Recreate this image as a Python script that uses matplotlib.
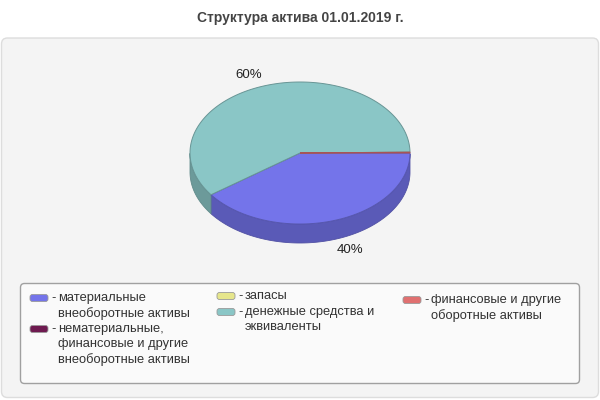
import numpy as np
import matplotlib
matplotlib.use('Agg')
import matplotlib.pyplot as plt
from matplotlib.patches import FancyBboxPatch, Polygon
from matplotlib.colors import to_rgb

plt.rcParams['font.family'] = ['Liberation Sans', 'DejaVu Sans']

# data
title = 'Структура актива 01.01.2019 г.'
categories = [
    'материальные\nвнеоборотные активы',
    'нематериальные,\nфинансовые и другие\nвнеоборотные активы',
    'запасы',
    'денежные средства и\nэквиваленты',
    'финансовые и другие\nоборотные активы',
]
values = [40.0, 0.0, 0.0, 59.8, 0.2]
colors = ['#7474ea', '#6e1a50', '#e6e68c', '#8ac6c6', '#e07070']


def darker(c, f=0.78):
    r, g, b = to_rgb(c)
    return (r * f, g * f, b * f)


fig = plt.figure(figsize=(6, 4), dpi=100)
ax = fig.add_axes([0, 0, 1, 1])
ax.set_xlim(0, 600)
ax.set_ylim(400, 0)
ax.axis('off')

ax.text(300, 18, title, ha='center', va='center', fontsize=10,
        fontweight='bold', color='#444444')

ax.add_patch(FancyBboxPatch((1.5, 38), 597, 359.5, boxstyle='round,pad=0,rounding_size=6',
                            facecolor='#f4f4f4', edgecolor='#dddddd', linewidth=1))

# pseudo-3d pie
cx, cy, rx, ry, depth = 300, 153, 110, 71, 19
total = sum(values)
start = 0.0
slices = []
for v, c in zip(values, colors):
    if v <= 0:
        continue
    end = start - 360.0 * v / total
    slices.append((start, end, v, c))
    start = end


def pt(t, dy=0.0):
    r = np.radians(t)
    return cx + rx * np.cos(r), cy - ry * np.sin(r) + dy


# sides (front half only)
for a0, a1, v, c in slices:
    ts = np.linspace(a1, a0, 200)
    tn = np.mod(ts, 360)
    front = tn >= 180
    if not front.any():
        continue
    tf = ts[front]
    top = [pt(t) for t in tf]
    bot = [pt(t, depth) for t in tf[::-1]]
    ax.add_patch(Polygon(top + bot, closed=True, facecolor=darker(c),
                         edgecolor=darker(c, 0.7), linewidth=0.6, zorder=2))

# tops
for a0, a1, v, c in slices:
    ts = np.linspace(a0, a1, 200)
    verts = [(cx, cy)] + [pt(t) for t in ts]
    ax.add_patch(Polygon(verts, closed=True, facecolor=c,
                         edgecolor=darker(c, 0.75), linewidth=0.7, zorder=3))

# percent labels
for a0, a1, v, c in slices:
    if v / total < 0.01:
        continue
    mid = np.radians((a0 + a1) / 2)
    lx = cx + 162 * np.cos(mid)
    ly = cy - 82 * np.sin(mid)
    if np.sin(mid) < 0:
        ly += depth
    ax.text(lx, ly, f'{v / total * 100:.0f}%', ha='center', va='center',
            fontsize=9.5, color='#222222', zorder=4)

# legend box
ax.add_patch(FancyBboxPatch((20.5, 283.5), 559, 100, boxstyle='round,pad=0,rounding_size=4',
                            facecolor='#fafafa', edgecolor='#a0a0a0', linewidth=1, zorder=1))

legend_pos = [(30, 298), (30, 329), (217, 296), (217, 312), (403, 300)]
line_h = 15.3
for (x, y), lab, c in zip(legend_pos, categories, colors):
    ax.add_patch(FancyBboxPatch((x, y - 3.5), 18, 7, boxstyle='round,pad=0,rounding_size=2.5',
                                facecolor=c, edgecolor='#9a9a9a', linewidth=0.6, zorder=5))
    ax.text(x + 21, y, '-', ha='left', va='center', fontsize=9.3, color='#333333', zorder=5)
    for i, line in enumerate(lab.split('\n')):
        ax.text(x + 28, y + i * line_h, line, ha='left', va='center',
                fontsize=9.3, color='#333333', zorder=5)

fig.savefig('out.png', dpi=100, facecolor='white')
